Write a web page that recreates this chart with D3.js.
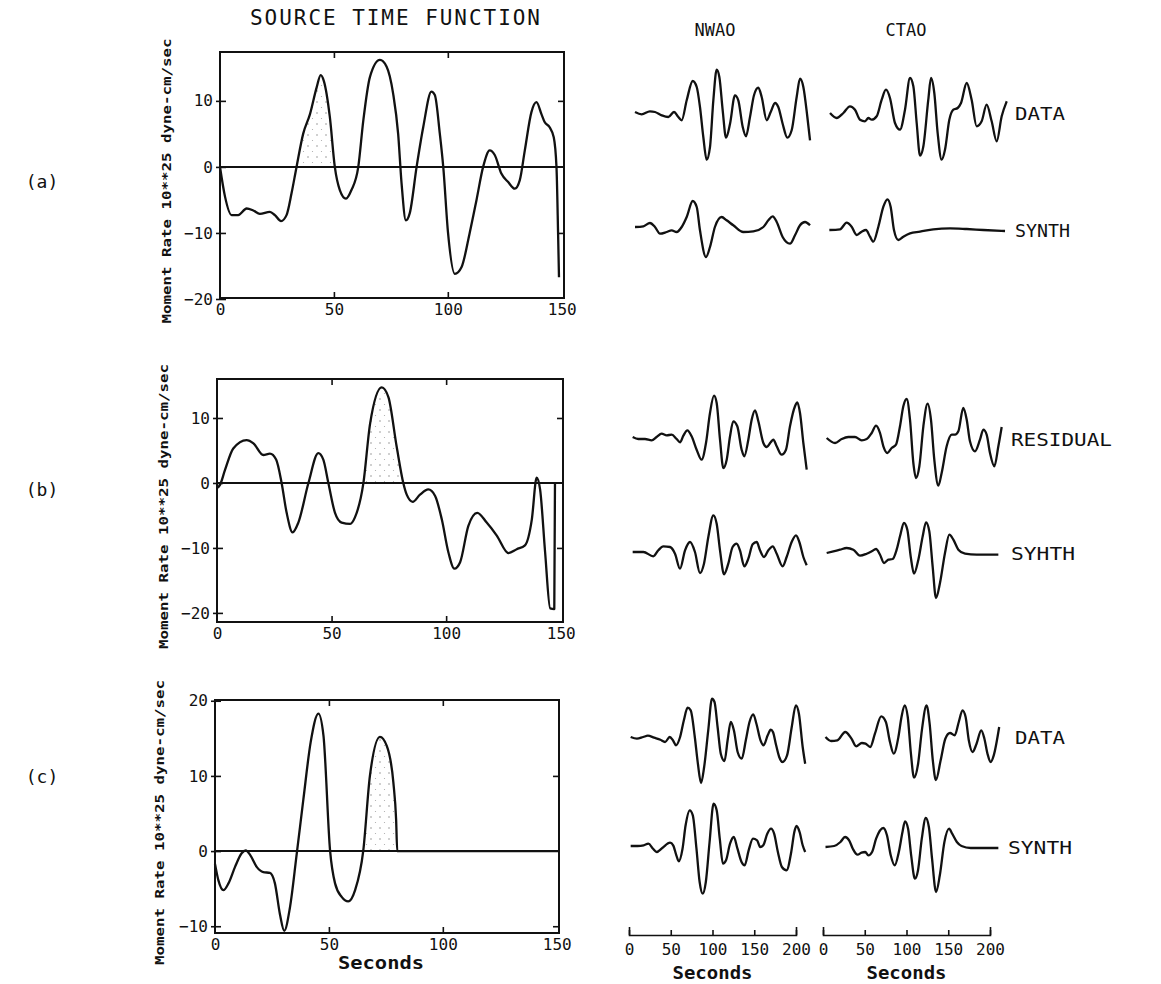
<!DOCTYPE html>
<html>
<head>
<meta charset="utf-8">
<script src="https://cdn.jsdelivr.net/npm/d3@7"></script>
<style>
  body { margin: 0; background: #fff; }
  svg text { font-family: "DejaVu Sans Mono", monospace; fill: #111; }
</style>
</head>
<body>
<svg id="chart" width="1161" height="984"></svg>
<script>
// source time functions: [seconds, moment rate (10**25 dyne-cm/sec)]
var stfA = [[0,0],[2.2,-4.5],[5.1,-7.3],[8.0,-7.3],[11.7,-6.3],[14.6,-6.6],[17.5,-7.1],[21.9,-6.8],[24.1,-7.3],[26.8,-8.2],
  [29.2,-7.3],[31.4,-4],[33.6,0],[36.5,5],[39.5,8],[42.4,12],[44.2,13.9],[45.6,13],[48.2,7.6],[50.4,0],[52.6,-3.5],
  [55.3,-4.8],[57.7,-3.5],[60.7,0],[62.9,7],[65.8,13.6],[70.2,16.2],[73.1,15.2],[76.0,11.1],[78.2,5],[79.7,-2.5],
  [81.6,-8.1],[83.3,-7],[86.3,0],[89.2,6],[92.8,11.4],[94.3,10.9],[96.5,5],[98.0,0],[100.1,-10],[103.1,-16.2],
  [106.0,-15.2],[109.6,-10],[112.6,-5],[115.5,0],[118.4,2.5],[120.6,1.8],[123.5,-1],[126.5,-2.3],[129.4,-3.3],
  [131.6,-2],[133.8,2.5],[136.7,8.3],[138.9,9.8],[141.1,8],[142.5,6.8],[144.7,6],[146.5,4.5],[147.7,0],[148.4,-10],[148.8,-16.7]];
var stfB = [[0,-0.8],[1.3,-0.3],[3.5,2],[7.1,5.3],[12.9,6.6],[15.9,6.1],[20.2,4.3],[23.1,4.5],[25.8,3.6],[28.2,0],
  [30.4,-4.6],[33.0,-7.6],[35.5,-6.1],[39.9,0],[44.2,4.6],[46.4,3.6],[48.6,0],[51.5,-4.6],[54.4,-6.1],[58.1,-6.3],
  [60.2,-5.3],[63.9,0],[66.8,9.1],[71.9,14.7],[74.8,13.2],[78.4,5.6],[81.3,0],[82.8,-1.8],[85.4,-2.9],[88.6,-1.8],
  [92.2,-1],[95.2,-2],[98.1,-5.6],[101.0,-10.7],[103.6,-13.2],[106.1,-12.2],[109.7,-6.6],[113.6,-4.6],[117.7,-6.1],
  [122.1,-8.1],[127.2,-10.8],[130.8,-10.2],[134.4,-9.6],[137.4,-5.6],[139.5,0.8],[141.0,-1],[143.2,-10.7],
  [145.4,-19.3],[147.2,-19.4],[147.5,0]];
var stfC = [[0,-1.7],[1.5,-3.9],[3.7,-5.2],[5.9,-4.3],[8.8,-2.1],[11.7,-0.3],[13.5,0.1],[15.4,-0.5],[18.3,-2.1],
  [21.2,-2.8],[24.1,-2.9],[26.3,-4.3],[28.5,-8.4],[30.4,-10.6],[32.9,-7.5],[35.9,-0.3],[38.8,6.9],[42.0,14.5],
  [45.4,18.3],[47.6,15.4],[50.5,0.1],[52.7,-4.3],[55.6,-6.1],[58.5,-6.7],[61.5,-5.2],[65.1,0.1],[68.0,10],
  [72.4,15.2],[75.4,14],[78.3,9.1],[79.5,4.2],[80.0,0],[151,0]];

var stfTicksA = [-20, -10, 0, 10],
    stfTicksB = [-20, -10, 0, 10],
    stfTicksC = [-10, 0, 10, 20],
    secTicks = [0, 50, 100, 150],
    waveTicks = [0, 50, 100, 150, 200];

// shaded (stippled) pulses, seconds
var shadeA = [35.5, 50.4], shadeB = [64.5, 81.3], shadeC = [65.1, 80.0];

// waveforms: [seconds, relative amplitude]
var nwaoDataA = [[7.2,0],[15.2,-2.3],[25.1,0.7],[31.1,0],[39.1,-3.3],[47.1,-5],[53.9,0],[59.1,-5],[63.1,-8.3],[69.1,11.7],
  [76.3,31],[81.1,25],[85.0,5],[89.0,-25],[93.0,-47.7],[97.0,-35],[101.0,11.7],[105.0,42.3],[108.2,35],[112.2,1.7],
  [116.2,-25.7],[121.0,-11.7],[126.9,16.7],[130.9,11.7],[136.2,-15],[140.1,-24.3],[144.9,-5],[149.7,16.7],[154.9,24.3],
  [158.9,15],[164.9,-8.3],[169.7,0],[174.9,9],[178.8,5],[184.0,-11.7],[189.6,-25.7],[194.8,-18.3],[200.8,15],
  [204.8,33.3],[208.8,25],[213.6,-5],[216.8,-28.3]];
var ctaoDataA = [[8.4,0],[16.4,-5],[24.4,0],[32.3,6.7],[38.3,3.3],[44.3,-6.7],[50.3,-8.3],[54.3,-5],[58.3,-6.7],[64.3,-3.3],
  [70.3,13.3],[75.4,23.3],[80.2,15],[86.2,-10],[92.2,-16.7],[98.2,3.3],[104.2,35],[108.2,26.7],[112.2,-10],[116.2,-42.7],
  [120.2,-33.3],[126.1,13.3],[129.3,35],[133.3,20],[137.3,-20],[142.1,-46.7],[146.1,-36.7],[151.3,-6.7],[156.1,3.3],
  [161.3,5],[165.3,10],[172.1,30],[178.0,13.3],[184.0,-13.3],[190.0,-8.3],[196.0,8.3],[202.0,-8.3],[208.0,-28.3],
  [214.0,-3.3],[220.0,11.7]];
var nwaoSynthA = [[7.2,0],[17.2,0.7],[25.1,4],[31.1,0],[37.1,-6.7],[45.1,-5],[51.1,-3.3],[57.1,-5],[63.1,0],[69.1,10],
  [76.3,26],[81.1,20],[85.0,-3.3],[92.2,-30],[97.0,-20],[102.9,0],[110.9,10],[116.9,6.7],[124.9,1.7],[136.9,-5],
  [148.9,-4.3],[160.9,0],[166.9,6.7],[172.1,10.7],[176.9,5],[184.0,-10],[192.8,-16.7],[198.8,-8.3],[204.8,1.7],
  [210.8,5],[216.8,1.7]];
var ctaoSynthA = [[7.6,0],[20.4,0.7],[28.3,7.3],[34.3,3.3],[40.3,-5],[46.3,-1.7],[51.5,0],[56.3,-6.7],[60.3,-11.7],
  [66.3,3.3],[72.3,23.3],[77.1,30.7],[81.0,23.3],[85.0,0],[90.2,-10],[96.2,-6.7],[104.2,-3.3],[116.2,-1.7],[132.1,0.7],
  [152.1,1.7],[172.1,1],[192.0,0],[218.0,-1]];

var nwaoResidB = [[4.4,1],[11.2,-1],[19.2,-1],[27.1,-2.3],[33.1,1],[39.1,4.3],[45.1,2.7],[51.1,3.3],[57.1,-1],[61.1,-4.3],
  [65.1,2.3],[69.9,7.7],[75.0,1.7],[81.0,-11.7],[87.0,-21.7],[92.2,-5],[97.0,25],[101.8,42.3],[105.0,35],[109.0,-1.7],
  [113.0,-30],[117.0,-21.7],[121.0,1.7],[124.9,16.7],[129.7,11.7],[134.9,-11.7],[138.1,-18.3],[142.9,-1.7],[146.9,18.3],
  [150.9,27.7],[154.9,16.7],[160.9,-5],[164.9,-9],[169.7,-4.3],[172.9,-1.7],[176.9,-8.3],[182.8,-16.7],[188.0,-11.7],
  [192.8,11.7],[198.8,31.7],[201.6,35.7],[204.8,25],[208.8,-5],[212.8,-31.7]];
var ctaoResidB = [[4.4,1],[14.4,-4],[22.4,0],[30.3,2],[38.3,2],[46.3,-1.3],[52.3,0],[58.3,6],[63.5,13.3],[68.3,6],
  [72.3,-7.3],[77.1,-14],[82.2,-9],[87.4,-5.7],[92.2,12.7],[96.2,32.7],[100.2,40],[104.2,19.3],[108.2,-24],[111.4,-39],
  [115.4,-27.3],[120.2,12.7],[125.3,35.3],[129.3,19.3],[133.3,-20.7],[138.1,-46.7],[142.1,-34],[148.1,-7.3],[154.1,4.3],
  [158.1,4.3],[162.1,7.7],[168.0,31],[172.1,19.3],[176.0,-2.3],[182.0,-12.3],[188.0,-0.7],[192.0,9.3],[196.0,4.3],
  [200.0,-14],[205.2,-27.3],[210.0,-7.3],[214.0,12]];
var nwaoSynthB = [[4.4,0],[17.2,0],[29.1,-4.3],[35.1,1.7],[41.1,5.7],[49.1,5],[55.1,-1.7],[61.1,-16.7],[67.1,1.7],[73.1,10],
  [79.0,0],[85.0,-21],[89.8,-11.7],[95.0,15],[101.0,36.7],[105.0,28.3],[109.0,1.7],[113.8,-22.3],[118.9,-11.7],[124.1,5],
  [128.9,8.3],[132.9,1.7],[138.1,-14.3],[142.9,-6.7],[148.1,7.7],[152.9,10],[156.9,1.7],[161.7,-5],[166.9,1.7],
  [172.1,5.7],[176.9,-1.7],[184.0,-14.3],[188.8,-5],[194.8,10],[200.0,16.7],[204.0,10],[208.8,-5],[212.8,-13.3]];
var ctaoSynthB = [[4.4,0],[12.4,1.7],[20.4,3.3],[28.3,5],[36.3,3.3],[44.3,-2.7],[52.3,-0.7],[58.3,1.7],[63.5,4],[68.3,-1.7],
  [73.1,-10],[78.2,-6.7],[83.4,-6],[88.2,3.3],[92.2,16.7],[97.0,30],[101.0,23.3],[105.0,-3.3],[109.0,-20.7],[114.2,-6.7],
  [119.4,16.7],[123.4,30.7],[127.3,21.7],[131.3,-13.3],[135.3,-45],[140.1,-30],[146.1,0],[151.3,18.3],[156.1,13.3],
  [162.1,3.3],[170.1,-0.7],[184.0,-1.7],[210.0,-1.7]];

var nwaoDataC = [[2.0,0],[9.5,-1.7],[17.0,0],[22.6,1.3],[30.1,-0.7],[37.6,-2.7],[43.2,-5],[48.8,0],[52.6,-3.3],[56.3,-8.3],
  [61.2,0],[65.7,16.7],[70.2,29.3],[73.9,26.7],[78.8,0],[82.5,-26.7],[86.3,-46],[90.0,-30],[94.9,6.7],[99.4,38.3],
  [102.4,35],[106.1,10],[109.9,-16.7],[114.4,-24],[118.1,-3.3],[121.9,15],[125.6,6.7],[130.1,-15],[135.0,-21.7],
  [139.9,-3.3],[144.3,15],[148.8,22.7],[152.6,13.3],[157.5,-3.3],[161.2,-8.3],[166.1,1.7],[169.8,7.3],[172.4,5],
  [176.2,-8.3],[179.9,-20],[183.7,-25],[189.3,-18.3],[194.9,10],[199.8,31.7],[203.5,23.3],[208.0,-10],[211.0,-26.7]];
var ctaoDataC = [[3.0,0],[9.7,-4],[17.2,-3.3],[26.6,5],[34.1,-1.7],[39.7,-9.3],[46.5,-6],[51.0,-6.7],[56.6,-10],[62.2,3.3],
  [69.7,20.7],[75.3,15],[80.2,-5],[84.7,-16.7],[90.3,0],[94.0,20],[97.8,31.7],[101.5,20],[105.3,-16.7],[109.0,-40.7],
  [113.9,-26.7],[118.4,6.7],[124.0,31.7],[127.7,13.3],[131.5,-23.3],[135.2,-43],[140.9,-23.3],[146.5,-1.7],[152.1,4],
  [157.7,1.7],[162.6,15],[167.1,26.7],[170.8,20],[174.6,-3.3],[179.1,-15],[183.9,-6.7],[189.5,6.7],[193.3,-1.7],
  [197.0,-16.7],[200.8,-25],[204.5,-18.3],[211.0,10]];
var nwaoSynthC = [[2.0,0],[10.2,0],[17.6,0.7],[23.2,2.3],[28.8,-2.7],[33.2,-6],[39.9,-2],[49.2,3.3],[52.9,0.7],[56.7,-9.3],
  [59.6,-15.3],[64.1,-2.7],[67.8,20.7],[72.7,35.7],[76.4,30.7],[80.8,-2.7],[84.6,-36],[88.3,-47.7],[92.0,-36],[96.5,4],
  [101.3,42.3],[105.0,35.7],[108.7,7.3],[112.5,-17.7],[116.2,-14.3],[121.0,2.3],[125.5,9],[129.9,-2.7],[134.8,-16],
  [138.5,-19.3],[143.3,-4.3],[148.5,7.3],[153.4,5.7],[157.1,-1],[160.8,0.7],[165.6,12.3],[170.1,17.3],[173.8,12.3],
  [178.3,-6],[183.1,-21],[188.7,-24.3],[194.3,-6],[198.0,14],[200.6,20],[204.3,14],[208.0,0.7],[211.0,-6]];
var ctaoSynthC = [[3.0,0],[13.4,1],[20.9,5],[26.4,10],[31.3,6.7],[35.7,-1.7],[41.3,-7.7],[46.1,-5.7],[50.6,-5],[54.3,-8.3],
  [58.8,-5],[63.6,8.3],[72.2,19],[76.6,11.7],[81.1,-8.3],[85.9,-18.3],[90.8,-5],[95.2,15],[98.2,25.7],[101.9,18.3],
  [105.6,-8.3],[110.1,-31.7],[113.8,-23.3],[118.3,8.3],[123.1,29],[126.8,20],[130.6,-11.7],[135.4,-45],[139.9,-28.3],
  [145.4,5],[151.0,18.3],[154.7,13.3],[160.3,5],[165.9,1],[177.0,-1],[210.0,-1]];

var stations = ["NWAO", "CTAO"],
    panelLabels = ["(a)", "(b)", "(c)"],
    rowLabels = ["DATA", "SYNTH", "RESIDUAL", "SYHTH", "DATA", "SYNTH"];

var svg = d3.select("#chart");
var ink = "#111";

// sparse stipple used for the shaded pulses
var defs = svg.append("defs");
var pat = defs.append("pattern")
    .attr("id", "stipple")
    .attr("width", 9).attr("height", 11)
    .attr("patternUnits", "userSpaceOnUse");
pat.append("circle").attr("cx", 2).attr("cy", 3).attr("r", 0.75).attr("fill", "#8a8a8a");
pat.append("circle").attr("cx", 6.5).attr("cy", 8.5).attr("r", 0.6).attr("fill", "#a8a8a8");

// title + headers
svg.append("text")
   .attr("x", 250).attr("y", 25)
   .attr("textLength", 290).attr("lengthAdjust", "spacing")
   .style("font-size", "21px")
   .text("SOURCE TIME FUNCTION");

var colCenter = [715, 906];
stations.forEach(function(s, i) {
  svg.append("text")
     .attr("x", colCenter[i]).attr("y", 36)
     .attr("text-anchor", "middle")
     .style("font-size", "17px")
     .text(s);
});

// ---------- source time function panels ----------
var panels = [
  {data: stfA, ticks: stfTicksA, shade: shadeA, left: 220, right: 564, top: 52, bottom: 298,
   yDom: [-19.85, 17.4], tagY: 188, ylabX: 167},
  {data: stfB, ticks: stfTicksB, shade: shadeB, left: 217, right: 563, top: 379, bottom: 622,
   yDom: [-21.4, 16], tagY: 496, ylabX: 164},
  {data: stfC, ticks: stfTicksC, shade: shadeC, left: 215, right: 559, top: 700, bottom: 933,
   yDom: [-10.9, 20.1], tagY: 783, ylabX: 160}
];

panels.forEach(function(p, i) {
  var x = d3.scaleLinear().domain([0, 151]).range([p.left, p.right]),
      y = d3.scaleLinear().domain(p.yDom).range([p.bottom, p.top]);
  var g = svg.append("g");

  // stippled pulse
  var clipId = "clip" + i;
  defs.append("clipPath").attr("id", clipId)
      .append("rect")
      .attr("x", x(p.shade[0])).attr("y", p.top)
      .attr("width", x(p.shade[1]) - x(p.shade[0]))
      .attr("height", y(0) - p.top);
  g.append("path")
   .datum(p.data)
   .attr("clip-path", "url(#" + clipId + ")")
   .attr("fill", "url(#stipple)")
   .attr("d", d3.area().x(function(d) { return x(d[0]); })
                 .y0(y(0)).y1(function(d) { return y(d[1]); })
                 .curve(d3.curveMonotoneX));

  // frame
  g.append("rect")
   .attr("x", p.left).attr("y", p.top)
   .attr("width", p.right - p.left).attr("height", p.bottom - p.top)
   .attr("fill", "none").attr("stroke", ink).attr("stroke-width", 2);

  // left axis with labels, ticks crossing the frame
  var ya = g.append("g")
     .attr("transform", "translate(" + p.left + ",0)")
     .call(d3.axisLeft(y).tickValues(p.ticks).tickSizeInner(4).tickSizeOuter(0).tickPadding(3));
  ya.select(".domain").remove();
  ya.selectAll(".tick line").attr("x1", 6).attr("stroke", ink).attr("stroke-width", 1.6);
  ya.selectAll("text").style("font-size", "16px").attr("fill", ink);

  // right / top inner ticks
  var yr = g.append("g")
     .attr("transform", "translate(" + p.right + ",0)")
     .call(d3.axisRight(y).tickValues([-10, 10]).tickSizeInner(-6).tickSizeOuter(0).tickFormat(""));
  yr.select(".domain").remove();
  yr.selectAll(".tick line").attr("stroke", ink).attr("stroke-width", 1.6);

  var xt = g.append("g")
     .attr("transform", "translate(0," + p.top + ")")
     .call(d3.axisTop(x).tickValues([50, 100]).tickSizeInner(-6).tickSizeOuter(0).tickFormat(""));
  xt.select(".domain").remove();
  xt.selectAll(".tick line").attr("stroke", ink).attr("stroke-width", 1.6);

  var xb = g.append("g")
     .attr("transform", "translate(0," + p.bottom + ")")
     .call(d3.axisBottom(x).tickValues(secTicks).tickSizeInner(-6).tickSizeOuter(0).tickPadding(6));
  xb.select(".domain").remove();
  xb.selectAll(".tick line").attr("stroke", ink).attr("stroke-width", 1.6)
    .attr("display", function(d) { return (d === 50 || d === 100) ? null : "none"; });
  xb.selectAll("text").style("font-size", "16px").attr("fill", ink);

  // zero line
  g.append("line")
   .attr("x1", p.left).attr("x2", p.right)
   .attr("y1", y(0)).attr("y2", y(0))
   .attr("stroke", ink).attr("stroke-width", 2);

  // moment rate curve
  g.append("path")
   .datum(p.data)
   .attr("fill", "none").attr("stroke", ink).attr("stroke-width", 2.3)
   .attr("stroke-linejoin", "round")
   .attr("d", d3.line().x(function(d) { return x(d[0]); })
                .y(function(d) { return y(d[1]); })
                .curve(d3.curveMonotoneX));

  // rotated y label
  var cy = (p.top + p.bottom) / 2 + 6;
  g.append("text")
   .attr("transform", "translate(" + p.ylabX + "," + cy + ") rotate(-90)")
   .attr("text-anchor", "middle")
   .attr("dominant-baseline", "central")
   .attr("textLength", 285).attr("lengthAdjust", "spacingAndGlyphs")
   .style("font-size", "12px").style("font-weight", "bold")
   .text("Moment Rate 10**25 dyne-cm/sec");

  // (a) (b) (c)
  svg.append("text")
     .attr("x", 42).attr("y", p.tagY)
     .attr("text-anchor", "middle")
     .style("font-size", "18px")
     .text(panelLabels[i]);

  if (i === 2) {
    g.append("text")
     .attr("x", (p.left + p.right) / 2 - 6).attr("y", 969)
     .attr("text-anchor", "middle")
     .attr("textLength", 86).attr("lengthAdjust", "spacingAndGlyphs")
     .style("font-size", "17px").style("font-weight", "bold")
     .text("Seconds");
  }
});

// ---------- waveforms ----------
var nwaoX = d3.scaleLinear().domain([0, 200]).range([629, 796]),
    ctaoX = d3.scaleLinear().domain([0, 200]).range([823, 990]),
    amp = d3.scaleLinear().domain([0, 10]).range([0, -10]);

var traces = [
  [nwaoDataA, ctaoDataA], [nwaoSynthA, ctaoSynthA],
  [nwaoResidB, ctaoResidB], [nwaoSynthB, ctaoSynthB],
  [nwaoDataC, ctaoDataC], [nwaoSynthC, ctaoSynthC]
];
var baseNwao = [112, 227, 438, 552, 737, 846],
    baseCtao = [113, 230, 439, 553, 737, 847],
    labelX = [1015, 1015, 1011, 1011, 1015, 1008],
    labelW = [50, 55, 101, 64, 50, 64];

traces.forEach(function(pair, r) {
  [nwaoX, ctaoX].forEach(function(sx, c) {
    var base = c === 0 ? baseNwao[r] : baseCtao[r];
    svg.append("path")
       .datum(pair[c])
       .attr("fill", "none").attr("stroke", ink).attr("stroke-width", 2.3)
       .attr("stroke-linejoin", "round")
       .attr("d", d3.line().x(function(d) { return sx(d[0]); })
                    .y(function(d) { return base + amp(d[1]); })
                    .curve(d3.curveMonotoneX));
  });
  svg.append("text")
     .attr("x", labelX[r]).attr("y", baseCtao[r])
     .attr("dominant-baseline", "central")
     .attr("textLength", labelW[r]).attr("lengthAdjust", "spacingAndGlyphs")
     .style("font-size", "18px")
     .text(rowLabels[r]);
});

// time axes under the waveforms
[nwaoX, ctaoX].forEach(function(sx) {
  var ax = svg.append("g")
     .attr("transform", "translate(0,935)")
     .call(d3.axisBottom(sx).tickValues(waveTicks).tickSizeInner(-5).tickSizeOuter(-8).tickPadding(9));
  ax.select(".domain").attr("stroke", ink).attr("stroke-width", 1.6);
  ax.selectAll(".tick line").attr("stroke", ink).attr("stroke-width", 1.6);
  ax.selectAll("text").style("font-size", "16px").attr("fill", ink);
  svg.append("text")
     .attr("x", (sx.range()[0] + sx.range()[1]) / 2).attr("y", 979)
     .attr("text-anchor", "middle")
     .attr("textLength", 80).attr("lengthAdjust", "spacingAndGlyphs")
     .style("font-size", "17px").style("font-weight", "bold")
     .text("Seconds");
});
</script>
</body>
</html>
